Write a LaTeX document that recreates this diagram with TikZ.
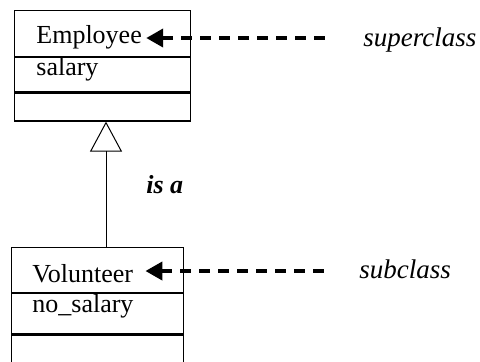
\documentclass[tikz,border=0pt]{standalone}
\usepackage{fontspec}
\setmainfont{Liberation Serif}
\usetikzlibrary{arrows.meta,positioning}
\tikzset{
    compart/.style={draw, line width=0.6pt, inner sep=0pt, anchor=north west, minimum width=88pt},
    clsname/.style={anchor=base west, inner sep=0pt, font=\fontsize{13}{15}\selectfont},
    rolename/.style={anchor=base west, inner sep=0pt, font=\fontsize{13.5}{16}\selectfont\itshape},
    pointer/.style={line width=2pt, dash pattern=on 5.5pt off 4pt, {Triangle[length=8.5pt,width=9pt]}-},
    isa/.style={line width=0.5pt, -{Triangle[open,length=15pt,width=16pt]}}}

\begin{document}
\begin{tikzpicture}[x=0.5pt,y=-0.5pt]
\useasboundingbox (0,0) rectangle (480,361);

% superclass box
\node[compart, minimum height=23pt] (empname) at (14,10) {};
\node[compart, minimum height=17pt] (empattr) at (empname.south west) {};
\node[compart, minimum height=14pt] (empops) at (empattr.south west) {};
\node[clsname] (emptxt) at (36,43) {Employee};
\node[clsname] (salary) at (36,75) {salary};

% subclass box
\node[compart, minimum width=86pt, minimum height=22.5pt] (volname) at (11,247) {};
\node[compart, minimum width=86pt, minimum height=20pt] (volattr) at (volname.south west) {};
\node[compart, minimum width=86pt, minimum height=17pt] (volops) at (volattr.south west) {};
\node[clsname] (voltxt) at (32,282) {Volunteer};
\node[clsname] (nosalary) at (32,312) {no\_salary};

% generalisation
\draw[isa] ([xshift=47.5pt]volname.north west) coordinate (isafoot) -- (isafoot |- empops.south);
\node[anchor=base west, inner sep=0pt, font=\fontsize{13}{15}\selectfont\bfseries\itshape] (isalbl) at (146,193) {is a};

% labels and pointers
\node[rolename] (suplbl) at (363,46) {superclass};
\node[rolename] (sublbl) at (359,278) {subclass};
\coordinate (suptail) at (330,38);
\coordinate (subtail) at (332,271);
\draw[pointer] ([xshift=2pt]emptxt.east |- suptail) -- (suptail);
\draw[pointer] ([xshift=6pt]voltxt.east |- subtail) -- (subtail);
\end{tikzpicture}
\end{document}
